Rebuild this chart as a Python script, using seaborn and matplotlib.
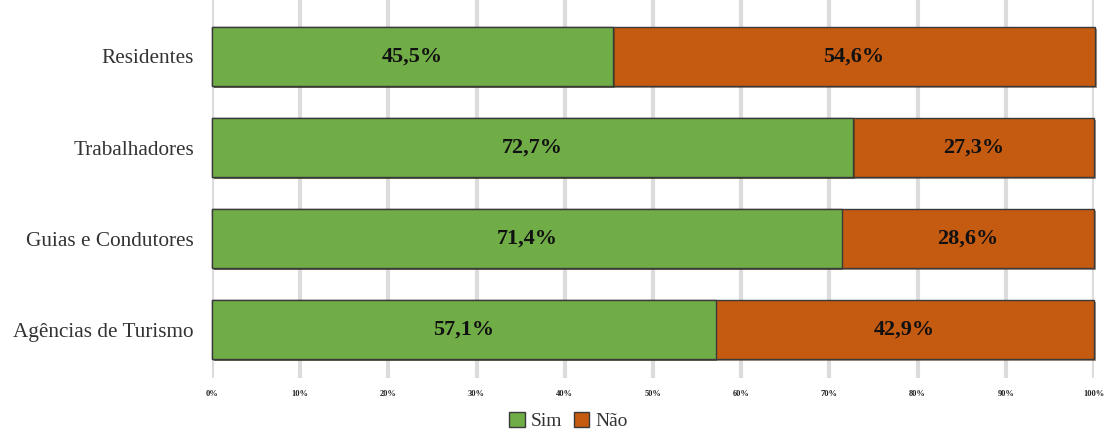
import matplotlib
matplotlib.use("Agg")
import matplotlib.pyplot as plt
import matplotlib.patheffects as pe
from matplotlib.patches import Patch
import seaborn as sns
import pandas as pd

categories = ["Residentes", "Trabalhadores", "Guias e Condutores", "Agências de Turismo"]
sim = [45.5, 72.7, 71.4, 57.1]
nao = [54.6, 27.3, 28.6, 42.9]
xticks = [0, 10, 20, 30, 40, 50, 60, 70, 80, 90, 100]

green = "#70AD47"
orange = "#C55A11"

sns.set_theme(style="white")
plt.rcParams["font.family"] = ["Liberation Serif", "DejaVu Serif"]

df = pd.DataFrame({"cat": categories, "sim": sim, "nao": nao})
df["total"] = df["sim"] + df["nao"]

fig = plt.figure(figsize=(11.12, 4.32), dpi=100)
ax = fig.add_axes([0.1906, 0.125, 0.7932, 0.875])

for x in xticks:
    ax.axvline(x, color="#dcdcdc", lw=3, zorder=0)

shadow = [pe.SimplePatchShadow(offset=(1.2, -1.5), alpha=0.45), pe.Normal()]
sns.barplot(data=df, y="cat", x="total", orient="h", color=orange, width=0.65,
            edgecolor="#3a3a3a", linewidth=1.0, saturation=1, ax=ax, zorder=2)
sns.barplot(data=df, y="cat", x="sim", orient="h", color=green, width=0.65,
            edgecolor="#3a3a3a", linewidth=1.0, saturation=1, ax=ax, zorder=3)
for p in ax.patches:
    p.set_path_effects(shadow)
    p.set_clip_on(False)

for i, (s, n) in enumerate(zip(sim, nao)):
    ax.text(s / 2, i, f"{s:.1f}%".replace(".", ","), ha="center", va="center",
            fontsize=16, fontweight="bold", color="#111111", zorder=5)
    ax.text(s + (100 - s) / 2, i, f"{n:.1f}%".replace(".", ","), ha="center", va="center",
            fontsize=16, fontweight="bold", color="#111111", zorder=5)

ax.set_xlim(0, 100)
ax.set_ylim(3.53, -0.62)
ax.set_xticks(xticks)
ax.set_xticklabels([f"{x}%" for x in xticks], fontsize=6, fontweight="bold", color="#222222")
ax.tick_params(axis="x", length=0, pad=9)
ax.tick_params(axis="y", length=0, pad=13, labelsize=15.3, labelcolor="#333333")
ax.set_xlabel("")
ax.set_ylabel("")
for sp in ax.spines.values():
    sp.set_visible(False)

handles = [Patch(facecolor=green, edgecolor="#3a3a3a", label="Sim"),
           Patch(facecolor=orange, edgecolor="#3a3a3a", label="Não")]
fig.legend(handles=handles, loc="center", bbox_to_anchor=(0.511, 0.025), ncol=2,
           frameon=False, fontsize=14, handlelength=0.8, handleheight=0.8,
           handletextpad=0.3, columnspacing=0.6, labelcolor="#333333")

fig.savefig("out.png", dpi=100)
